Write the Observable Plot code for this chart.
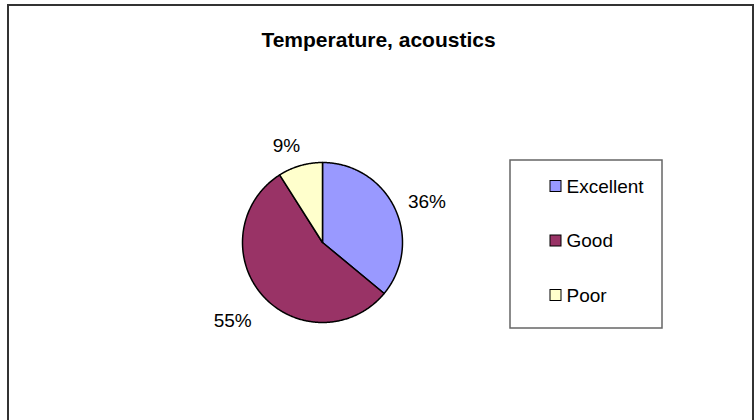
<!DOCTYPE html>
<html>
<head>
<meta charset="utf-8">
<script src="https://cdn.jsdelivr.net/npm/d3@7"></script>
<script src="https://cdn.jsdelivr.net/npm/@observablehq/plot@0.6"></script>
<style>
  html, body { margin: 0; padding: 0; background: #fff; }
  svg { display: block; }
</style>
</head>
<body>
<div id="chart"></div>
<script>
// ---- data ----
const title = "Temperature, acoustics";
const categories = ["Excellent", "Good", "Poor"];
const values = [36, 55, 9];
const labels = ["36%", "55%", "9%"];
const colors = ["#9999FF", "#993366", "#FFFFCC"];

// ---- layout (pixels) ----
const W = 755, H = 420;
const cx = 322, cy = 242, R = 80;
const font = "Liberation Sans, Arial, sans-serif";

// pixel -> unit coordinates helpers
const ux = px => (px - cx) / R;
const uy = py => (cy - py) / R;

// slices
const total = d3.sum(values);
let acc = 0;
const slices = categories.map((c, i) => {
  const a0 = acc / total * 2 * Math.PI;
  acc += values[i];
  const a1 = acc / total * 2 * Math.PI;
  return {category: c, value: values[i], label: labels[i], a0, a1, mid: (a0 + a1) / 2};
});

// outline points of each slice (unit circle, clockwise from top)
const slicePts = [];
slices.forEach(s => {
  slicePts.push({category: s.category, x: 0, y: 0});
  const n = Math.max(2, Math.ceil((s.a1 - s.a0) / 0.01));
  for (let k = 0; k <= n; k++) {
    const a = s.a0 + (s.a1 - s.a0) * k / n;
    slicePts.push({category: s.category, x: Math.sin(a), y: Math.cos(a)});
  }
  slicePts.push({category: s.category, x: 0, y: 0});
});

const lr = 1.18;
const labelData = slices.map(s => {
  const sx = Math.sin(s.mid), cs = Math.cos(s.mid);
  return {
    label: s.label, x: sx * lr, y: cs * lr,
    anchor: sx >= 0 ? "start" : "end",
    line: cs > 0.5 ? "bottom" : cs < -0.5 ? "top" : "middle"
  };
});
const labelGroups = d3.groups(labelData, d => d.anchor + "|" + d.line);

// legend
const legX = 550, legY0 = 186, legStep = 54.5, sw = 11;
const legend = categories.map((c, i) => ({
  category: c,
  x1: ux(legX), x2: ux(legX + sw),
  y1: uy(legY0 + i * legStep - sw / 2), y2: uy(legY0 + i * legStep + sw / 2),
  tx: ux(legX + sw + 5), ty: uy(legY0 + i * legStep)
}));

const chart = Plot.plot({
  width: W, height: H,
  marginTop: 0, marginRight: 0, marginBottom: 0, marginLeft: 0,
  x: {domain: [-1, 1], range: [cx - R, cx + R], axis: null},
  y: {domain: [-1, 1], range: [cy + R, cy - R], axis: null},
  color: {domain: categories, range: colors},
  style: {fontFamily: font, background: "#fff", overflow: "visible"},
  marks: [
    // outer chart border
    Plot.rect([0], {x1: ux(8), x2: ux(753), y1: uy(5), y2: uy(430), fill: "none", stroke: "#333", strokeWidth: 2}),
    // pie slices
    Plot.line(slicePts, {x: "x", y: "y", z: "category", fill: "category", stroke: "#000", strokeWidth: 1.5, strokeLinejoin: "round", curve: "linear"}),
    // data labels
    ...labelGroups.map(([key, rows]) =>
      Plot.text(rows, {x: "x", y: "y", text: "label", textAnchor: rows[0].anchor, lineAnchor: rows[0].line,
        dx: rows[0].anchor === "end" && rows[0].line === "bottom" ? 4 : 0,
        dy: rows[0].line === "top" ? 9 : 0, fontSize: 19, fill: "#000"})
    ),
    // title
    Plot.text([title], {x: ux(378), y: uy(40), text: d => d, fontSize: 21, fontWeight: "bold", fill: "#000"}),
    // legend box
    Plot.rect([0], {x1: ux(510), x2: ux(662), y1: uy(160), y2: uy(328), fill: "none", stroke: "#666", strokeWidth: 1.5}),
    Plot.rect(legend, {x1: "x1", x2: "x2", y1: "y1", y2: "y2", fill: "category", stroke: "#000", strokeWidth: 1}),
    Plot.text(legend, {x: "tx", y: "ty", text: "category", textAnchor: "start", fontSize: 19, fill: "#000"})
  ]
});

document.getElementById("chart").appendChild(chart);
</script>
</body>
</html>
